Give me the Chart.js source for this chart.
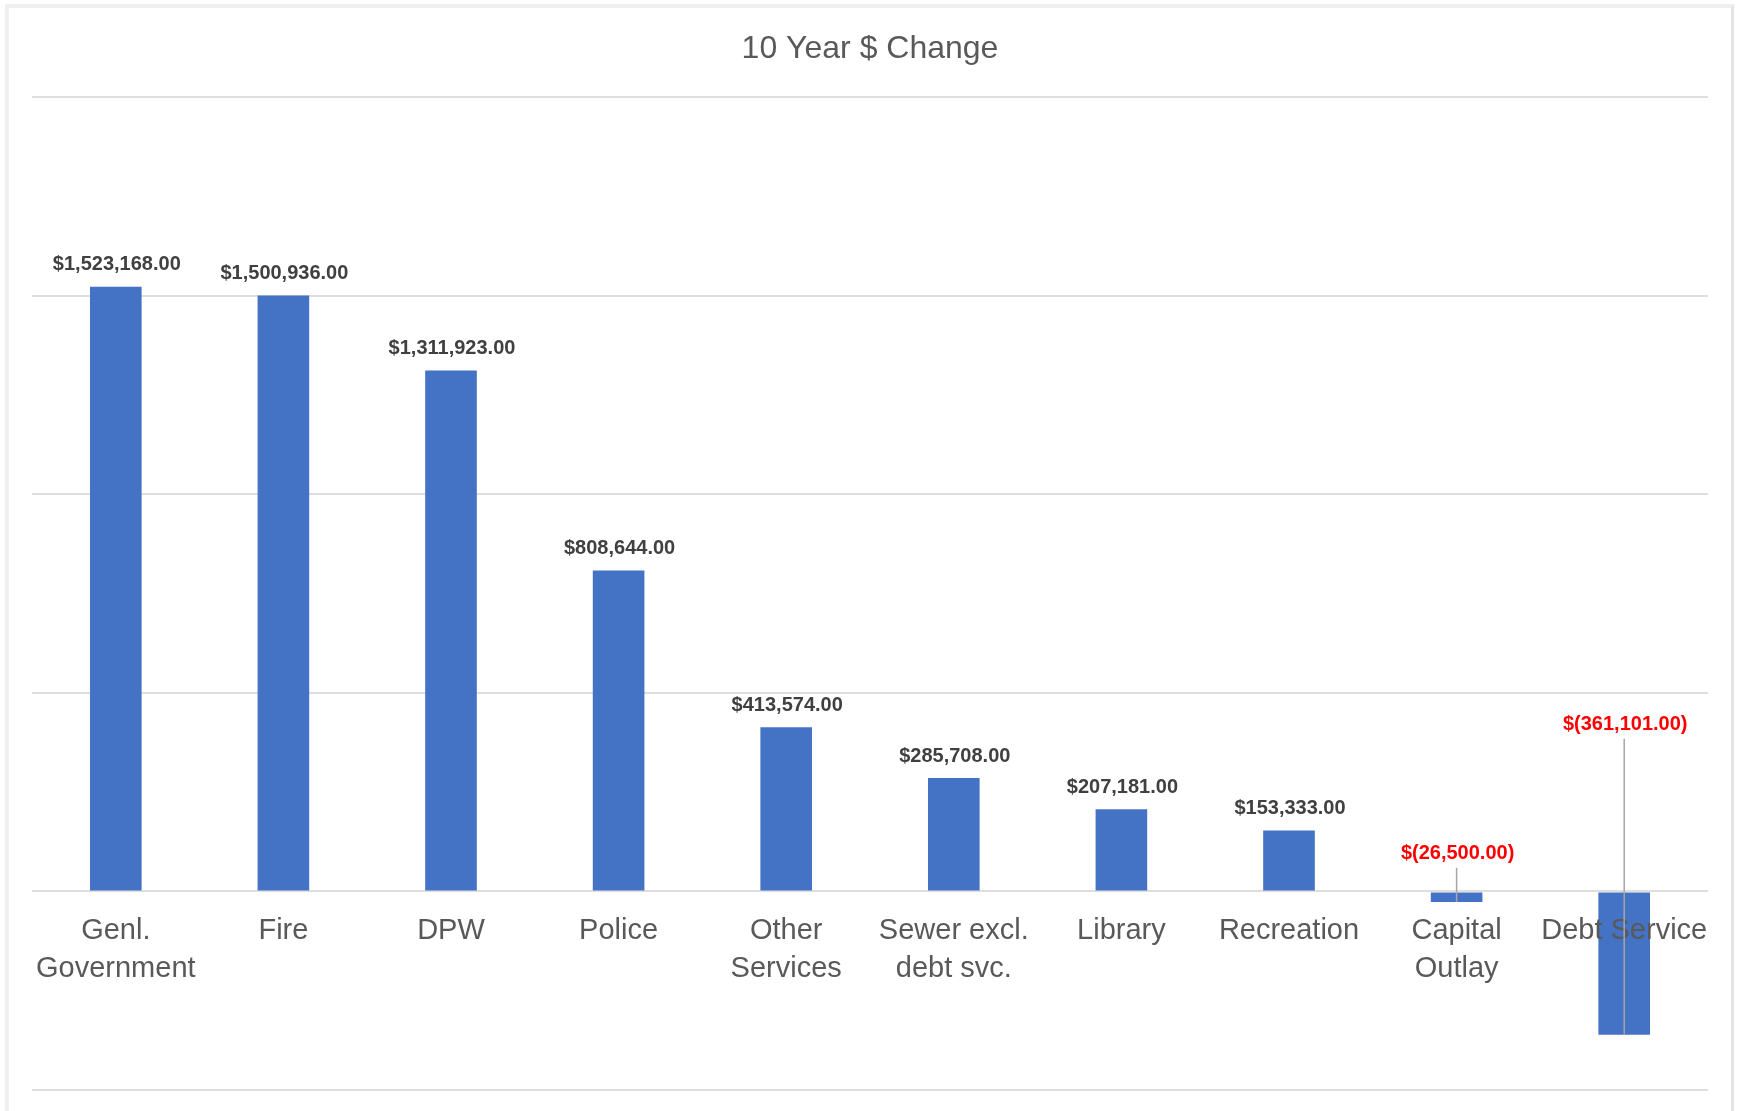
<!DOCTYPE html>
<html>
<head>
<meta charset="utf-8">
<title>10 Year $ Change</title>
<script src="https://cdn.jsdelivr.net/npm/chart.js@4.4.1/dist/chart.umd.min.js"></script>
<style>
    html, body { margin: 0; padding: 0; background: #ffffff; overflow: hidden; }
    #frame {
        position: absolute; left: 5px; top: 4px; width: 1729px; height: 1130px;
        box-sizing: border-box;
        border-left: 4px solid #efefef; border-top: 4px solid #efefef; border-right: 3px solid #e3e3e3;
    }
    #wrap { position: absolute; left: 0; top: 0; width: 1740px; height: 1111px; }
</style>
</head>
<body>
<div id="frame"></div>
<div id="wrap"><canvas id="changeChart"></canvas></div>
<script>
// Departments (wrapped the way the axis shows them)
const categories = [
    ['Genl.', 'Government'],
    'Fire',
    'DPW',
    'Police',
    ['Other', 'Services'],
    ['Sewer excl.', 'debt svc.'],
    'Library',
    'Recreation',
    ['Capital', 'Outlay'],
    'Debt Service'
];

// 10 year change in dollars
const changes = [1523168, 1500936, 1311923, 808644, 413574, 285708, 207181, 153333, -26500, -361101];

// Value axis gridlines (no tick text shown)
const yTicks = [-500000, 0, 500000, 1000000, 1500000, 2000000];

const FONT = '"Liberation Sans", Arial, sans-serif';

function formatMoney(v) {
    const s = Math.abs(v).toLocaleString('en-US', { minimumFractionDigits: 2, maximumFractionDigits: 2 });
    return v < 0 ? '$(' + s + ')' : '$' + s;
}

// Value labels above each bar; negative ones sit higher up with a leader line
const valueLabels = {
    id: 'valueLabels',
    afterDraw(chart, args, opts) {
        const ctx = chart.ctx;
        const meta = chart.getDatasetMeta(0);
        const yScale = chart.scales.y;
        ctx.save();
        ctx.font = 'bold 20px ' + FONT;
        ctx.textAlign = 'center';
        ctx.textBaseline = 'middle';
        meta.data.forEach((bar, i) => {
            const v = changes[i];
            const text = formatMoney(v);
            if (v >= 0) {
                ctx.fillStyle = '#404040';
                ctx.fillText(text, bar.x + 1, bar.y - 22);
            } else {
                const ly = yScale.getPixelForValue(opts.calloutAt[i]);
                ctx.strokeStyle = '#a6a6a6';
                ctx.lineWidth = 1.5;
                ctx.beginPath();
                ctx.moveTo(bar.x, ly + 14);
                ctx.lineTo(bar.x, bar.y);
                ctx.stroke();
                ctx.fillStyle = '#ff0000';
                ctx.fillText(text, bar.x + 1, ly);
            }
        });
        ctx.restore();
    }
};

document.addEventListener('DOMContentLoaded', function () {
    const ctx = document.getElementById('changeChart').getContext('2d');

    new Chart(ctx, {
        type: 'bar',
        data: {
            labels: categories,
            datasets: [{
                label: '10 Year $ Change',
                data: changes,
                backgroundColor: '#4472c4',
                borderWidth: 0,
                barPercentage: 1,
                categoryPercentage: 0.308
            }]
        },
        options: {
            responsive: true,
            maintainAspectRatio: false,
            animation: false,
            layout: { padding: { left: 32, right: 32, top: 8, bottom: 21 } },
            plugins: {
                legend: { display: false },
                tooltip: { enabled: false },
                title: {
                    display: true,
                    text: '10 Year $ Change',
                    color: '#595959',
                    font: { family: FONT, size: 32, weight: 'normal', lineHeight: 1.2 },
                    padding: { top: 22, bottom: 29 }
                },
                valueLabels: { calloutAt: { 8: 95000, 9: 420000 } }
            },
            scales: {
                x: {
                    position: { y: 0 },
                    grid: { display: false, drawTicks: false },
                    border: { display: false },
                    ticks: {
                        z: 1, // category text sits on top of the bars
                        color: '#595959',
                        font: { family: FONT, size: 29, lineHeight: 1.3 },
                        padding: 21,
                        autoSkip: false,
                        maxRotation: 0,
                        minRotation: 0
                    }
                },
                y: {
                    min: yTicks[0],
                    max: yTicks[yTicks.length - 1],
                    afterBuildTicks: function (scale) {
                        scale.ticks = yTicks.map(v => ({ value: v }));
                    },
                    grid: { color: '#dedede', lineWidth: 2, drawTicks: false },
                    border: { display: false },
                    ticks: { display: false }
                }
            }
        },
        plugins: [valueLabels]
    });
});
</script>
</body>
</html>
